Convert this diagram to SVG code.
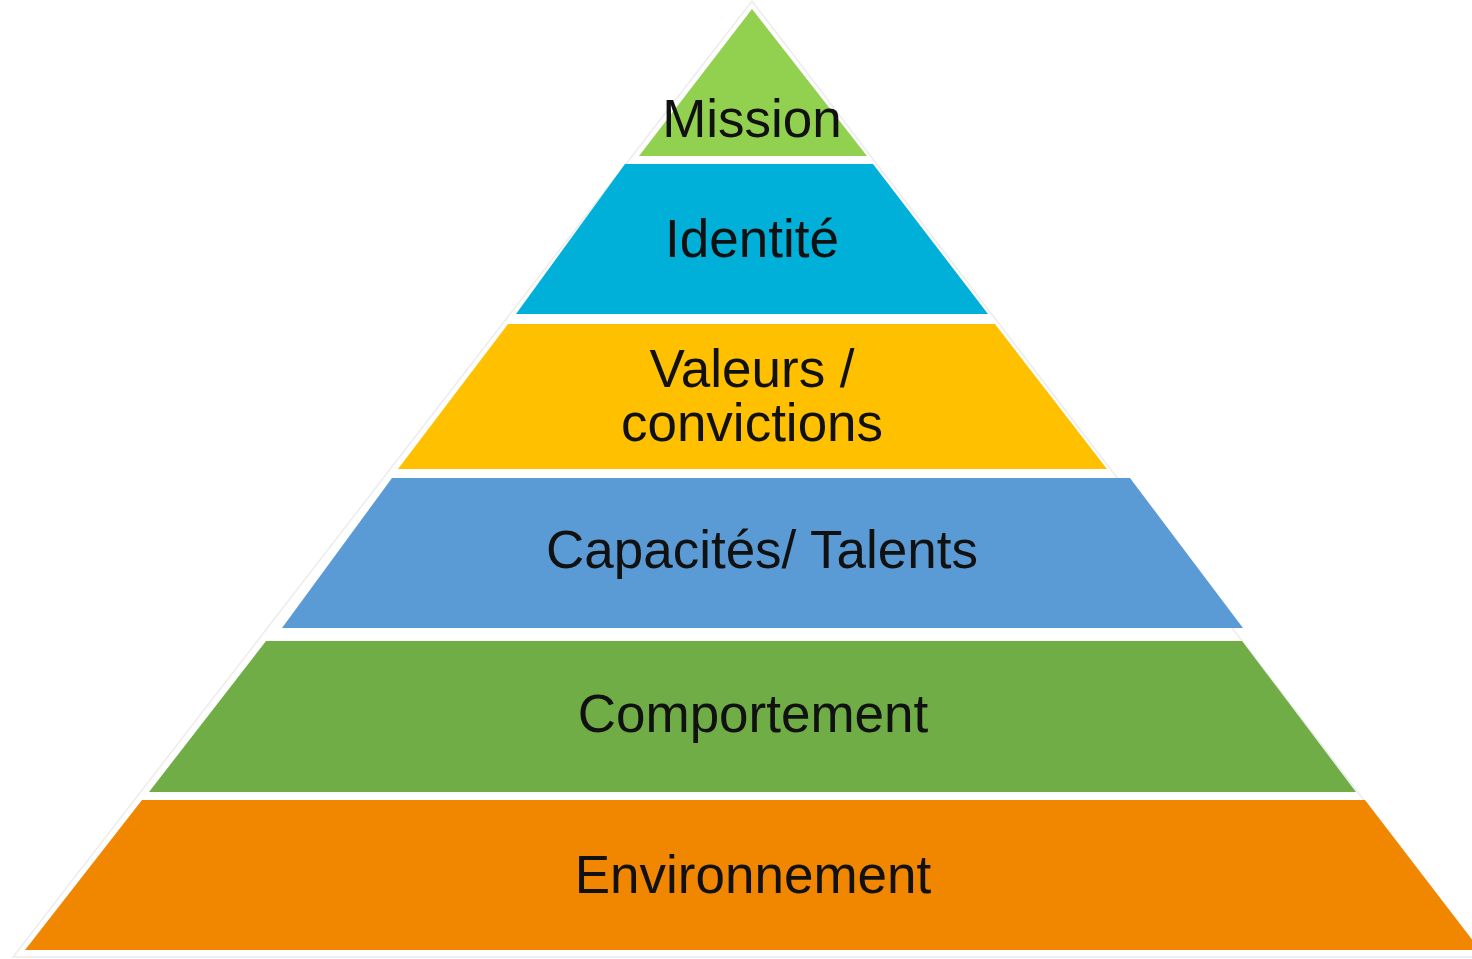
<svg xmlns="http://www.w3.org/2000/svg" width="1472" height="959" viewBox="0 0 1472 959">
  <style>
    .lbl { font-family: "Liberation Sans", Arial, sans-serif; font-size: 53px; fill: #111111; text-anchor: middle; }
    .outline { fill: none; stroke: #ececec; stroke-width: 1.5; }
  </style>
  <rect width="1472" height="959" fill="#ffffff"/>
  <polygon class="outline" points="752,1 1484,957 13,957"/>
  <g id="mission">
    <polygon points="752,9 867,156 639,156" fill="#92D050"/>
    <text class="lbl" x="752" y="137">Mission</text>
  </g>
  <g id="identite">
    <polygon points="625,164 873,164 988,314 516,314" fill="#00B0D8"/>
    <text class="lbl" x="752" y="257">Identité</text>
  </g>
  <g id="valeurs">
    <polygon points="508,324 995,324 1107,469 398,469" fill="#FFC000"/>
    <text class="lbl" x="752" y="387">Valeurs /</text>
    <text class="lbl" x="752" y="441">convictions</text>
  </g>
  <g id="capacites">
    <polygon points="392,478 1130,478 1243,628 282,628" fill="#5B9BD5"/>
    <text class="lbl" x="762" y="568">Capacités/ Talents</text>
  </g>
  <g id="comportement">
    <polygon points="266,641 1242,641 1356,792 149,792" fill="#70AD47"/>
    <text class="lbl" x="753" y="732">Comportement</text>
  </g>
  <g id="environnement">
    <polygon points="142,800 1365,800 1480,950 25,950" fill="#F18700"/>
    <text class="lbl" x="753" y="893">Environnement</text>
  </g>
  <g id="connectors"></g>
</svg>
